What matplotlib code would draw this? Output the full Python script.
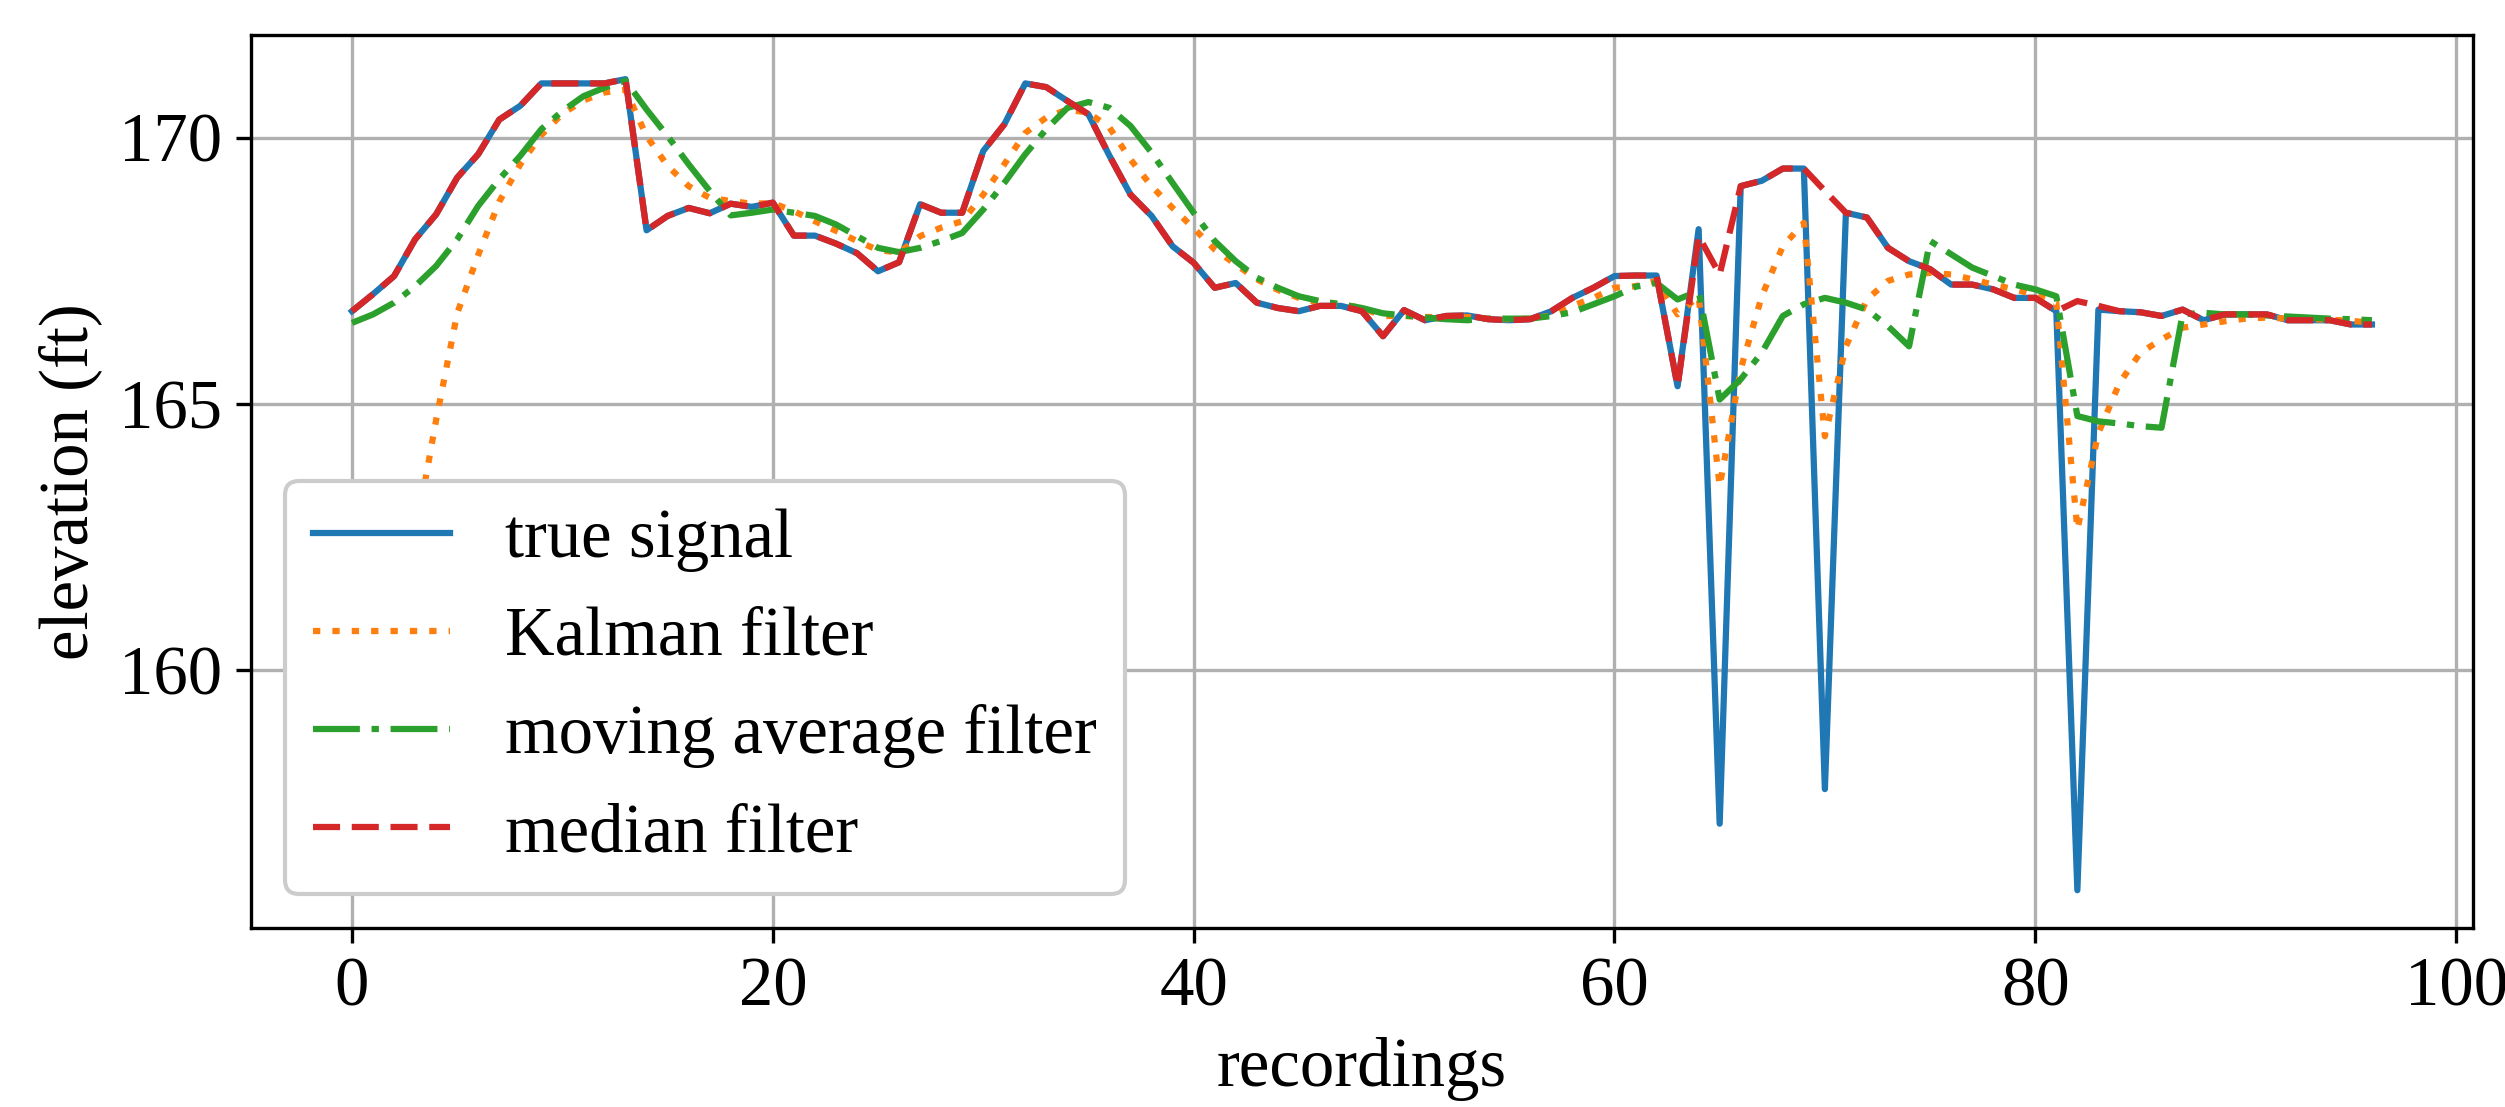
import matplotlib
matplotlib.use("Agg")
import matplotlib.pyplot as plt

plt.rcParams['font.family'] = ['Liberation Serif', 'DejaVu Serif']
plt.rcParams['font.size'] = 16.5

recordings = list(range(97))

true_signal = [
    166.74, 167.06, 167.40, 168.09, 168.56, 169.25, 169.69, 170.34, 170.60, 171.02,
    171.02, 171.02, 171.02, 171.10, 168.26, 168.53, 168.68, 168.58, 168.76, 168.70,
    168.78, 168.16, 168.16, 168.01, 167.83, 167.49, 167.66, 168.75, 168.59, 168.59,
    169.75, 170.25, 171.02, 170.95, 170.69, 170.44, 169.66, 168.93, 168.53, 167.96,
    167.65, 167.18, 167.27, 166.90, 166.80, 166.74, 166.84, 166.84, 166.74, 166.27,
    166.76, 166.57, 166.65, 166.66, 166.59, 166.57, 166.59, 166.74, 166.99, 167.18,
    167.40, 167.41, 167.41, 165.33, 168.28, 157.11, 169.09, 169.19, 169.42, 169.42,
    157.76, 168.59, 168.50, 167.93, 167.68, 167.53, 167.24, 167.24, 167.15, 166.99,
    166.99, 166.74, 155.86, 166.77, 166.74, 166.72, 166.65, 166.77, 166.57, 166.68,
    166.68, 166.68, 166.57, 166.57, 166.57, 166.49, 166.49,
]

kalman = [
    157.50, 159.30, 161.00, 162.50, 164.70, 166.70, 167.80, 168.80, 169.50, 170.05,
    170.45, 170.70, 170.85, 170.90, 170.03, 169.47, 169.09, 168.87, 168.81, 168.76,
    168.77, 168.62, 168.43, 168.25, 168.06, 167.89, 167.84, 168.15, 168.31, 168.43,
    168.93, 169.50, 170.09, 170.38, 170.53, 170.47, 170.19, 169.59, 169.09, 168.68,
    168.30, 167.90, 167.62, 167.34, 167.14, 166.99, 166.90, 166.87, 166.80, 166.65,
    166.65, 166.63, 166.63, 166.63, 166.60, 166.59, 166.60, 166.66, 166.84, 166.99,
    167.18, 167.21, 167.31, 166.68, 167.02, 163.45, 165.65, 167.02, 167.96, 168.40,
    164.39, 166.08, 166.96, 167.31, 167.43, 167.46, 167.43, 167.34, 167.24, 167.15,
    167.05, 166.90, 162.64, 164.45, 165.39, 165.96, 166.21, 166.43, 166.49, 166.55,
    166.60, 166.62, 166.60, 166.59, 166.58, 166.56, 166.52,
]

moving_avg = [
    166.52, 166.68, 166.90, 167.21, 167.59, 168.09, 168.72, 169.22, 169.66, 170.16,
    170.50, 170.78, 170.94, 171.07, 170.53, 170.03, 169.50, 169.00, 168.54, 168.59,
    168.65, 168.59, 168.53, 168.37, 168.15, 167.93, 167.85, 167.93, 168.06, 168.21,
    168.65, 169.15, 169.69, 170.16, 170.56, 170.67, 170.56, 170.22, 169.72, 169.15,
    168.59, 168.06, 167.68, 167.37, 167.18, 167.02, 166.93, 166.87, 166.80, 166.70,
    166.66, 166.62, 166.59, 166.57, 166.60, 166.60, 166.60, 166.65, 166.72, 166.87,
    167.02, 167.20, 167.27, 166.96, 167.12, 165.08, 165.46, 165.96, 166.65, 166.87,
    166.99, 166.90, 166.77, 166.46, 166.08, 168.06, 167.81, 167.56, 167.40, 167.24,
    167.15, 167.02, 164.77, 164.67, 164.63, 164.58, 164.55, 166.68, 166.71, 166.68,
    166.68, 166.66, 166.64, 166.62, 166.60, 166.59, 166.57,
]

median = [
    166.74, 167.06, 167.40, 168.09, 168.56, 169.25, 169.69, 170.34, 170.60, 171.02,
    171.02, 171.02, 171.02, 171.10, 168.26, 168.53, 168.68, 168.58, 168.76, 168.70,
    168.78, 168.16, 168.16, 168.01, 167.83, 167.49, 167.66, 168.75, 168.59, 168.59,
    169.75, 170.25, 171.02, 170.95, 170.69, 170.44, 169.66, 168.93, 168.53, 167.96,
    167.65, 167.18, 167.27, 166.90, 166.80, 166.74, 166.84, 166.84, 166.74, 166.27,
    166.76, 166.57, 166.65, 166.66, 166.59, 166.57, 166.59, 166.74, 166.99, 167.18,
    167.40, 167.41, 167.41, 165.33, 168.15, 167.43, 169.09, 169.19, 169.42, 169.42,
    169.00, 168.59, 168.50, 167.93, 167.68, 167.53, 167.24, 167.24, 167.15, 166.99,
    166.99, 166.74, 166.93, 166.84, 166.74, 166.72, 166.65, 166.77, 166.57, 166.68,
    166.68, 166.68, 166.57, 166.57, 166.57, 166.49, 166.49,
]

fig = plt.figure(figsize=(8.35, 3.69), dpi=300)
ax = fig.add_subplot(111)
fig.subplots_adjust(left=0.1002, right=0.9872, top=0.9684, bottom=0.1617)

# dash patterns a bit longer than matplotlib's defaults, as in the original
ax.plot(recordings, true_signal, '-', label='true signal')
ax.plot(recordings, kalman, ls=(0, (1.17, 1.93)), label='Kalman filter')
ax.plot(recordings, moving_avg, ls=(0, (7.5, 1.87, 1.17, 1.87)), label='moving average filter')
ax.plot(recordings, median, ls=(0, (4.33, 1.87)), label='median filter')

ax.set_ylim(155.15, 171.93)
ax.set_xlabel('recordings')
ax.set_ylabel('elevation (ft)')
ax.grid(True)
ax.legend(loc='lower left', framealpha=1)

fig.savefig('out.png', dpi=300)
